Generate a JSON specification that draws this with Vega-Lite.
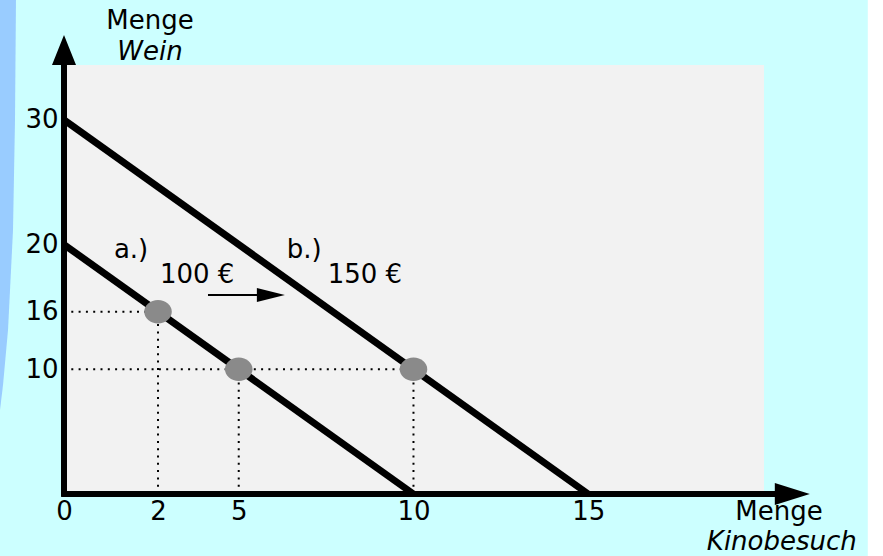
{
  "$schema": "https://vega.github.io/schema/vega-lite/v6.json",
  "width": 700,
  "height": 429,
  "autosize": {"type": "none"},
  "padding": {"left": 64, "top": 65, "right": 119, "bottom": 62},
  "background": "#ccffff",
  "config": {
    "view": {"fill": "#f2f2f2", "stroke": null},
    "font": "DejaVu Sans"
  },
  "datasets": {
    "strip": [
      {"y": 40.0, "x": -1.95, "x2": -1.373},
      {"y": 29.99, "x": -1.95, "x2": -1.402},
      {"y": 21.17, "x": -1.95, "x2": -1.459},
      {"y": 13.15, "x": -1.95, "x2": -1.602},
      {"y": 8.74, "x": -1.95, "x2": -1.745},
      {"y": 6.74, "x": -1.95, "x2": -1.831}
    ],
    "edge": [{"x": 23.0, "x2": 24.0, "y": -6, "y2": 41}],
    "dotted": [
      {"x": 0, "x2": 2.69, "y": 14.62, "y2": 14.62},
      {"x": 2.69, "x2": 2.69, "y": 0, "y2": 14.62},
      {"x": 0, "x2": 10, "y": 10, "y2": 10},
      {"x": 5, "x2": 5, "y": 0, "y2": 10},
      {"x": 10, "x2": 10, "y": 0, "y2": 10}
    ],
    "budget": [
      {"name": "a", "x": 0, "y": 20, "x2": 10, "y2": 0},
      {"name": "b", "x": 0, "y": 30, "x2": 15, "y2": 0}
    ],
    "axes": [
      {"x": -0.08, "y": 0, "x2": 20.4, "y2": 0},
      {"x": 0, "y": -0.2, "x2": 0, "y2": 35}
    ],
    "xhead": [{"x": 20.84, "y": 0}],
    "yhead": [{"x": 0, "y": 35.6}],
    "shift": [{"x": 4.12, "x2": 5.8, "y": 15.96}],
    "shifthead": [{"x": 5.92, "y": 15.96}],
    "dots": [
      {"x": 2.69, "y": 14.62},
      {"x": 5, "y": 10},
      {"x": 10, "y": 10}
    ],
    "labels": [
      {"t": "Menge", "x": 2.46, "y": 37.93},
      {"t": "Menge", "x": 20.46, "y": -1.44},
      {"t": "a.)", "x": 1.92, "y": 19.57},
      {"t": "100 €", "x": 3.81, "y": 17.56},
      {"t": "b.)", "x": 6.87, "y": 19.57},
      {"t": "150 €", "x": 8.61, "y": 17.56}
    ],
    "italic": [
      {"t": "Wein", "x": 2.46, "y": 35.45},
      {"t": "Kinobesuch", "x": 20.54, "y": -3.85}
    ]
  },
  "encoding": {
    "x": {
      "field": "x", "type": "quantitative",
      "scale": {"domain": [0, 20.03], "nice": false},
      "axis": {
        "title": null, "domain": false, "ticks": false, "tickSize": 0, "grid": false,
        "values": [0, 2.69, 5, 10, 15],
        "labelExpr": "datum.value == 2.69 ? '2' : datum.label",
        "labelFontSize": 26, "labelFont": "DejaVu Sans", "labelColor": "#000000",
        "labelPadding": 4, "labelFlush": false, "labelOverlap": false
      }
    },
    "y": {
      "field": "y", "type": "quantitative",
      "scale": {"domain": [0, 34.4], "nice": false},
      "axis": {
        "title": null, "domain": false, "ticks": false, "tickSize": 0, "grid": false,
        "values": [30, 20, 14.62, 10],
        "labelExpr": "datum.value == 14.62 ? '16' : datum.label",
        "labelFontSize": 26, "labelFont": "DejaVu Sans", "labelColor": "#000000",
        "labelPadding": 6, "labelFlush": false, "labelOverlap": false
      }
    }
  },
  "layer": [
    {
      "data": {"name": "strip"},
      "mark": {"type": "area", "orient": "horizontal", "color": "#99ccff"},
      "encoding": {"x2": {"field": "x2"}}
    },
    {
      "data": {"name": "edge"},
      "mark": {"type": "rect", "color": "#ffffff"},
      "encoding": {"x2": {"field": "x2"}, "y2": {"field": "y2"}}
    },
    {
      "data": {"name": "dotted"},
      "mark": {"type": "rule", "color": "#000000", "strokeWidth": 2, "strokeDash": [2, 5.3]},
      "encoding": {"x2": {"field": "x2"}, "y2": {"field": "y2"}}
    },
    {
      "data": {"name": "budget"},
      "mark": {"type": "rule", "color": "#000000", "strokeWidth": 7},
      "encoding": {"x2": {"field": "x2"}, "y2": {"field": "y2"}}
    },
    {
      "data": {"name": "axes"},
      "mark": {"type": "rule", "color": "#000000", "strokeWidth": 6},
      "encoding": {"x2": {"field": "x2"}, "y2": {"field": "y2"}}
    },
    {
      "data": {"name": "xhead"},
      "mark": {"type": "point", "shape": "M-1,-0.63L1,0L-1,0.63Z", "filled": true, "color": "#000000", "opacity": 1, "size": 1225, "strokeWidth": 0},
      "encoding": {}
    },
    {
      "data": {"name": "yhead"},
      "mark": {"type": "point", "shape": "M-0.8,1L0,-1L0.8,1Z", "filled": true, "color": "#000000", "opacity": 1, "size": 900, "strokeWidth": 0},
      "encoding": {}
    },
    {
      "data": {"name": "shift"},
      "mark": {"type": "rule", "color": "#000000", "strokeWidth": 2},
      "encoding": {"x2": {"field": "x2"}}
    },
    {
      "data": {"name": "shifthead"},
      "mark": {"type": "point", "shape": "M-1,-0.5L1,0L-1,0.5Z", "filled": true, "color": "#000000", "opacity": 1, "size": 784, "strokeWidth": 0},
      "encoding": {}
    },
    {
      "data": {"name": "dots"},
      "mark": {"type": "point", "shape": "M-1,0C-1,-0.4694,-0.5523,-0.85,0,-0.85C0.5523,-0.85,1,-0.4694,1,0C1,0.4694,0.5523,0.85,0,0.85C-0.5523,0.85,-1,0.4694,-1,0Z", "filled": true, "color": "#8a8a8a", "opacity": 1, "size": 760, "strokeWidth": 0},
      "encoding": {}
    },
    {
      "data": {"name": "labels"},
      "mark": {"type": "text", "font": "DejaVu Sans", "fontSize": 26, "color": "#000000", "align": "center", "baseline": "middle"},
      "encoding": {"text": {"field": "t"}}
    },
    {
      "data": {"name": "italic"},
      "mark": {"type": "text", "font": "DejaVu Sans", "fontSize": 26, "fontStyle": "italic", "color": "#000000", "align": "center", "baseline": "middle"},
      "encoding": {"text": {"field": "t"}}
    }
  ]
}
